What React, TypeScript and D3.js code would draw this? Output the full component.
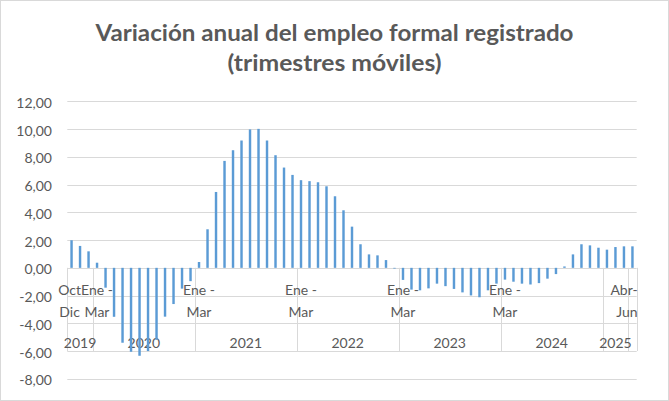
import React from "react";
import * as d3 from "d3";

// Annual variation of registered formal employment (moving trimesters), %
const values2019 = [1.99, 1.58, 1.19];
const values2020 = [0.37, -1.43, -3.53, -5.4, -6.05, -6.34, -6.0, -5.19, -3.52, -2.61, -1.5, -0.96];
const values2021 = [0.42, 2.78, 5.47, 7.71, 8.48, 9.18, 9.98, 10.02, 9.18, 8.12, 7.23, 6.7];
const values2022 = [6.32, 6.25, 6.17, 5.88, 5.16, 4.15, 2.97, 1.7, 0.97, 0.9, 0.56, -0.05];
const values2023 = [-0.87, -1.57, -1.62, -1.48, -1.14, -1.32, -1.52, -1.77, -1.99, -2.12, -1.62, -1.14];
const values2024 = [-0.85, -1.0, -1.14, -1.2, -1.1, -0.78, -0.45, 0.1, 0.97, 1.7, 1.62, 1.45];
const values2025 = [1.31, 1.5, 1.55, 1.55];

const values = [
  ...values2019,
  ...values2020,
  ...values2021,
  ...values2022,
  ...values2023,
  ...values2024,
  ...values2025,
];

// Outer level of the category axis
const yearLabels = ["2019", "2020", "2021", "2022", "2023", "2024", "2025", ""];
const yearCounts = [3, 12, 12, 12, 12, 12, 3, 1];

// Inner level labels (only the visible ones)
const tickIndex = [0, 3, 15, 27, 39, 51, 66];
const tickLine1 = ["Oct", "Ene -", "Ene -", "Ene -", "Ene -", "Ene -", "Abr-"];
const tickLine2 = ["Dic", "Mar", "Mar", "Mar", "Mar", "Mar", "Jun"];

const yTicks = [12, 10, 8, 6, 4, 2, 0, -2, -4, -6, -8];

const W = 669;
const H = 401;
const FONT = "Lato, 'Open Sans', sans-serif";
const TEXT = "#595959";
const GRID = "#d9d9d9";
const BAR = "#5B9BD5";

const fmt = d3.formatLocale({
  decimal: ",",
  thousands: ".",
  grouping: [3],
  currency: ["", ""],
  minus: "-",
}).format(".2f");

export default function App() {
  const left = 67.3;
  const right = 636.7;
  const n = values.length;
  const x = d3
    .scaleBand<number>()
    .domain(d3.range(n))
    .range([left, right])
    .paddingInner(0.714)
    .paddingOuter(0.357);
  const step = x.step();
  const boundary = (i: number) => left + i * step;
  const center = (i: number) => (x(i) as number) + x.bandwidth() / 2;
  const y = d3.scaleLinear().domain([-8, 12]).range([378.8, 101.4]);
  const y0 = y(0);

  // group boundaries
  const starts: number[] = [];
  let acc = 0;
  yearCounts.forEach((c) => {
    starts.push(acc);
    acc += c;
  });
  const sepIdx = [0, ...tickIndex.slice(1), ...starts, n].filter(
    (v, i, a) => a.indexOf(v) === i
  );

  return (
    <div style={{ position: "absolute", left: 0, top: 0 }}>
      <svg width={W} height={H} style={{ display: "block" }}>
        <rect x={0} y={0} width={W} height={H} fill="#fff" />
        <rect x={0.5} y={0.5} width={W - 1} height={H - 1} fill="none" stroke={GRID} />

        <text
          x={W / 2}
          y={41}
          textAnchor="middle"
          fontFamily={FONT}
          fontWeight="bold"
          fontSize={23}
          fill={TEXT}
          textLength={478}
          lengthAdjust="spacingAndGlyphs"
        >
          Variación anual del empleo formal registrado
        </text>
        <text
          x={W / 2}
          y={71}
          textAnchor="middle"
          fontFamily={FONT}
          fontWeight="bold"
          fontSize={23}
          fill={TEXT}
          textLength={214}
          lengthAdjust="spacingAndGlyphs"
        >
          (trimestres móviles)
        </text>

        {/* gridlines */}
        {yTicks.map((t) => (
          <line
            key={"g" + t}
            x1={left}
            x2={right}
            y1={Math.round(y(t)) + 0.5}
            y2={Math.round(y(t)) + 0.5}
            stroke={GRID}
            strokeWidth={1}
          />
        ))}

        {/* y labels */}
        {yTicks.map((t) => (
          <text
            key={"yl" + t}
            x={52}
            y={y(t) + 6.5}
            textAnchor="end"
            fontFamily={FONT}
            fontSize={14}
            fill={TEXT}
          >
            {fmt(t)}
          </text>
        ))}

        {/* category table separators */}
        {sepIdx.map((i) => (
          <line
            key={"s" + i}
            x1={Math.round(boundary(i)) + 0.5}
            x2={Math.round(boundary(i)) + 0.5}
            y1={y0}
            y2={y(-6)}
            stroke={GRID}
            strokeWidth={1}
          />
        ))}

        {/* inner labels */}
        {tickIndex.map((idx, k) => {
          const last = idx === n - 1;
          const first = idx === 0;
          const cx = last ? right + 1 : first ? center(idx) - 2 : center(idx);
          const anchor = last ? "end" : "middle";
          return (
            <g key={"t" + idx}>
              <text x={cx} y={y0 + 27.5} textAnchor={anchor} fontFamily={FONT} fontSize={14} fill={TEXT}>
                {tickLine1[k]}
              </text>
              <text x={cx} y={y0 + 49.5} textAnchor={anchor} fontFamily={FONT} fontSize={14} fill={TEXT}>
                {tickLine2[k]}
              </text>
            </g>
          );
        })}

        {/* year labels */}
        {yearLabels.map((lab, k) => {
          const a = boundary(starts[k]);
          const b = boundary(starts[k] + yearCounts[k]);
          return (
            <text
              key={"y" + k}
              x={(a + b) / 2}
              y={y0 + 80.5}
              textAnchor="middle"
              fontFamily={FONT}
              fontSize={14}
              fill={TEXT}
            >
              {lab}
            </text>
          );
        })}

        {/* bars */}
        {values.map((v, i) => (
          <rect
            key={"b" + i}
            x={x(i)}
            y={v >= 0 ? y(v) : y0}
            width={x.bandwidth()}
            height={Math.abs(y(v) - y0)}
            fill={BAR}
          />
        ))}
      </svg>
    </div>
  );
}
